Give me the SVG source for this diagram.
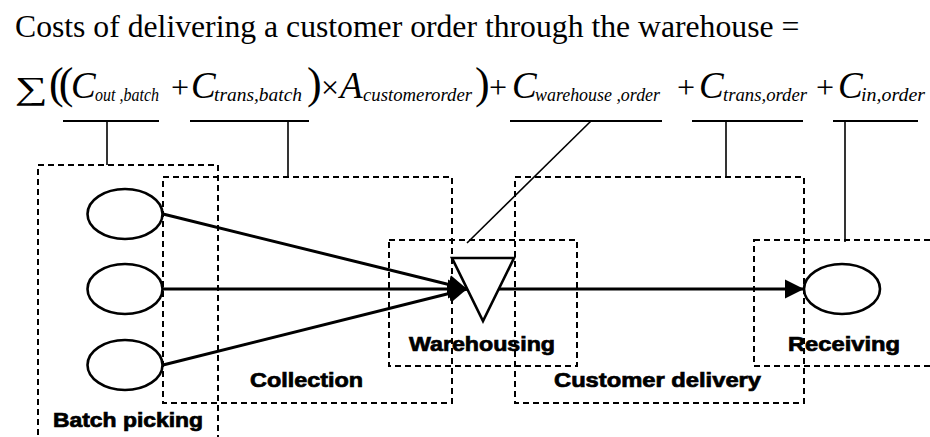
<svg xmlns="http://www.w3.org/2000/svg" width="930" height="437" viewBox="0 0 930 437">
  <defs>
    <marker id="arrowhead" markerUnits="userSpaceOnUse" markerWidth="20" markerHeight="20" viewBox="0 0 20 20" refX="19" refY="10" orient="auto">
      <path d="M0,0.5 L19,10 L0,19.5 Z" fill="#000"/>
    </marker>
  </defs>
  <style>
    .title { font-family: "Liberation Serif", "Times New Roman", serif; font-size: 31.7px; fill: #000; }
    .var { font-family: "Liberation Serif", "Times New Roman", serif; font-style: italic; font-size: 37px; fill: #000; }
    .sub { font-family: "Liberation Serif", "Times New Roman", serif; font-style: italic; font-size: 19px; fill: #000; }
    .op { font-family: "Liberation Serif", "Times New Roman", serif; font-size: 32px; fill: #000; }
    .paren { font-family: "Liberation Serif", "Times New Roman", serif; font-size: 44px; fill: #000; }
    .uline { stroke: #000; stroke-width: 2; fill: none; }
    .lead { stroke: #000; stroke-width: 1.6; fill: none; }
    .zone { fill: none; stroke: #000; stroke-width: 2; stroke-dasharray: 6 4; }
    .label { font-family: "Liberation Sans", Arial, sans-serif; font-weight: bold; font-size: 20px; fill: #000; stroke: #000; stroke-width: 0.7; }
    .node { fill: #fff; stroke: #000; stroke-width: 2.6; }
    .flow { stroke: #000; stroke-width: 3; fill: none; marker-end: url(#arrowhead); }
  </style>

  <!-- heading and cost formula -->
  <g id="formula">
    <text class="title" x="15" y="37">Costs of delivering a customer order through the warehouse =</text>
    <text class="op" x="15" y="99" font-size="41" textLength="33" lengthAdjust="spacingAndGlyphs">∑</text>
    <text class="paren" x="49" y="98" letter-spacing="-5">((</text>
    <text class="var" x="71" y="98">C</text>
    <text class="sub" x="95" y="101" textLength="64" lengthAdjust="spacingAndGlyphs">out ,batch</text>
    <text class="op" x="171" y="98">+</text>
    <text class="var" x="191" y="98">C</text>
    <text class="sub" x="214" y="101" textLength="88" lengthAdjust="spacingAndGlyphs">trans,batch</text>
    <text class="paren" x="307" y="98">)</text>
    <text class="op" x="321" y="98">×</text>
    <text class="var" x="340" y="98">A</text>
    <text class="sub" x="363" y="101" textLength="109" lengthAdjust="spacingAndGlyphs">customerorder</text>
    <text class="paren" x="475" y="98">)</text>
    <text class="op" x="489" y="98">+</text>
    <text class="var" x="512" y="98">C</text>
    <text class="sub" x="535" y="101" textLength="125" lengthAdjust="spacingAndGlyphs">warehouse ,order</text>
    <text class="op" x="677" y="98">+</text>
    <text class="var" x="699" y="98">C</text>
    <text class="sub" x="723" y="101" textLength="84" lengthAdjust="spacingAndGlyphs">trans,order</text>
    <text class="op" x="816" y="98">+</text>
    <text class="var" x="838" y="98">C</text>
    <text class="sub" x="861" y="101" textLength="64" lengthAdjust="spacingAndGlyphs">in,order</text>
  </g>

  <!-- process zones -->
  <g id="zone-batch-picking">
    <rect class="zone" x="38" y="165" width="180" height="290"/>
    <text class="label" x="53" y="427" textLength="150" lengthAdjust="spacingAndGlyphs">Batch picking</text>
  </g>
  <g id="zone-collection">
    <rect class="zone" x="163" y="177" width="289" height="226"/>
    <text class="label" x="250" y="387" textLength="113" lengthAdjust="spacingAndGlyphs">Collection</text>
  </g>
  <g id="zone-warehousing">
    <rect class="zone" x="389" y="240" width="188" height="126"/>
    <text class="label" x="409" y="351" textLength="146" lengthAdjust="spacingAndGlyphs">Warehousing</text>
  </g>
  <g id="zone-customer-delivery">
    <rect class="zone" x="515" y="177" width="289" height="226"/>
    <text class="label" x="554" y="387" textLength="207" lengthAdjust="spacingAndGlyphs">Customer delivery</text>
  </g>
  <g id="zone-receiving">
    <rect class="zone" x="754" y="240" width="200" height="126"/>
    <text class="label" x="788" y="351" textLength="112" lengthAdjust="spacingAndGlyphs">Receiving</text>
  </g>

  <!-- connectors: formula terms to zones, and material flows -->
  <g id="connectors">
    <line class="uline" x1="63" y1="121" x2="159" y2="121"/>
    <line class="uline" x1="190" y1="121" x2="309" y2="121"/>
    <line class="uline" x1="510" y1="121" x2="662" y2="121"/>
    <line class="uline" x1="692" y1="121" x2="803" y2="121"/>
    <line class="uline" x1="833" y1="121" x2="918" y2="121"/>
    <line class="lead" x1="107" y1="121" x2="107" y2="165"/>
    <line class="lead" x1="288" y1="121" x2="288" y2="177"/>
    <line class="lead" x1="591" y1="121" x2="467" y2="243"/>
    <line class="lead" x1="726" y1="121" x2="726" y2="177"/>
    <line class="lead" x1="845" y1="121" x2="845" y2="242"/>
    <line class="flow" x1="163" y1="214" x2="467" y2="289"/>
    <line class="flow" x1="163" y1="289" x2="467" y2="289"/>
    <line class="flow" x1="163" y1="365" x2="467" y2="289"/>
    <line class="flow" x1="498" y1="289" x2="804" y2="289"/>
  </g>

  <!-- nodes -->
  <g id="source-1"><ellipse class="node" cx="125" cy="214" rx="37.5" ry="25"/></g>
  <g id="source-2"><ellipse class="node" cx="125" cy="289" rx="37.5" ry="25"/></g>
  <g id="source-3"><ellipse class="node" cx="125" cy="365" rx="37.5" ry="25"/></g>
  <g id="warehouse"><path class="node" d="M452,258 L514,258 L483,321 Z"/></g>
  <g id="customer"><ellipse class="node" cx="842" cy="289" rx="38" ry="25"/></g>
</svg>
